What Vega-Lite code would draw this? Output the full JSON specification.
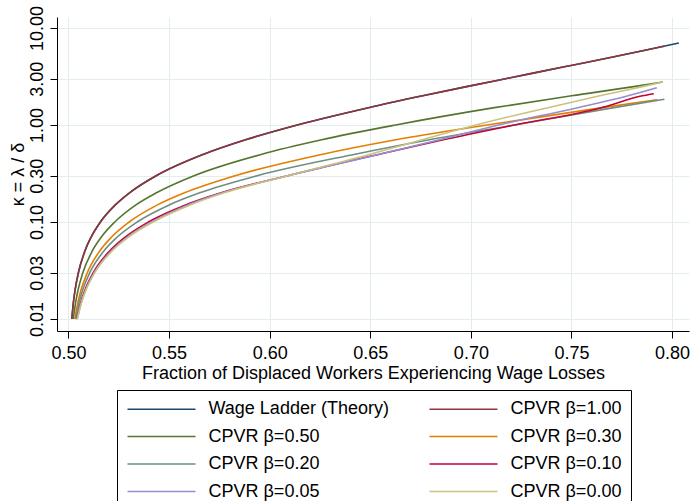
{
  "$schema": "https://vega.github.io/schema/vega-lite/v6.json",
  "width": 632,
  "height": 314,
  "autosize": {"type": "none"},
  "padding": {"left": 57, "top": 17, "right": 2, "bottom": 170},
  "background": "white",
  "config": {
    "view": {"stroke": null},
    "font": "Liberation Sans",
    "axis": {
      "domainColor": "black", "domainWidth": 1, "tickColor": "black", "tickWidth": 1, "tickSize": 7,
      "gridColor": "#e4edee", "gridWidth": 1, "labelFontSize": 18, "titleFontSize": 18,
      "labelColor": "black", "titleColor": "black", "titleFontWeight": "normal", "labelFont": "Liberation Sans", "titleFont": "Liberation Sans"
    },
    "legend": {"labelFont": "Liberation Sans"}
  },
  "data": {"values": [
    {"series": "Wage Ladder (Theory)", "kappa": 0.01, "frac": 0.50166},
    {"series": "Wage Ladder (Theory)", "kappa": 0.015, "frac": 0.50248},
    {"series": "Wage Ladder (Theory)", "kappa": 0.02, "frac": 0.50330},
    {"series": "Wage Ladder (Theory)", "kappa": 0.03, "frac": 0.50493},
    {"series": "Wage Ladder (Theory)", "kappa": 0.05, "frac": 0.50813},
    {"series": "Wage Ladder (Theory)", "kappa": 0.07, "frac": 0.51128},
    {"series": "Wage Ladder (Theory)", "kappa": 0.1, "frac": 0.51588},
    {"series": "Wage Ladder (Theory)", "kappa": 0.15, "frac": 0.52328},
    {"series": "Wage Ladder (Theory)", "kappa": 0.2, "frac": 0.53035},
    {"series": "Wage Ladder (Theory)", "kappa": 0.3, "frac": 0.54362},
    {"series": "Wage Ladder (Theory)", "kappa": 0.5, "frac": 0.56721},
    {"series": "Wage Ladder (Theory)", "kappa": 0.7, "frac": 0.58762},
    {"series": "Wage Ladder (Theory)", "kappa": 1.0, "frac": 0.61371},
    {"series": "Wage Ladder (Theory)", "kappa": 1.5, "frac": 0.64857},
    {"series": "Wage Ladder (Theory)", "kappa": 2.0, "frac": 0.67604},
    {"series": "Wage Ladder (Theory)", "kappa": 2.5, "frac": 0.69845},
    {"series": "Wage Ladder (Theory)", "kappa": 3.0, "frac": 0.71720},
    {"series": "Wage Ladder (Theory)", "kappa": 4.0, "frac": 0.74705},
    {"series": "Wage Ladder (Theory)", "kappa": 5.0, "frac": 0.76998},
    {"series": "Wage Ladder (Theory)", "kappa": 6.0, "frac": 0.78830},
    {"series": "Wage Ladder (Theory)", "kappa": 7.0, "frac": 0.80336},

    {"series": "CPVR β=1.00", "kappa": 0.01, "frac": 0.50166},
    {"series": "CPVR β=1.00", "kappa": 0.015, "frac": 0.50248},
    {"series": "CPVR β=1.00", "kappa": 0.02, "frac": 0.50330},
    {"series": "CPVR β=1.00", "kappa": 0.03, "frac": 0.50493},
    {"series": "CPVR β=1.00", "kappa": 0.05, "frac": 0.50813},
    {"series": "CPVR β=1.00", "kappa": 0.07, "frac": 0.51128},
    {"series": "CPVR β=1.00", "kappa": 0.1, "frac": 0.51588},
    {"series": "CPVR β=1.00", "kappa": 0.15, "frac": 0.52328},
    {"series": "CPVR β=1.00", "kappa": 0.2, "frac": 0.53035},
    {"series": "CPVR β=1.00", "kappa": 0.3, "frac": 0.54362},
    {"series": "CPVR β=1.00", "kappa": 0.5, "frac": 0.56721},
    {"series": "CPVR β=1.00", "kappa": 0.7, "frac": 0.58762},
    {"series": "CPVR β=1.00", "kappa": 1.0, "frac": 0.61371},
    {"series": "CPVR β=1.00", "kappa": 1.5, "frac": 0.64857},
    {"series": "CPVR β=1.00", "kappa": 2.0, "frac": 0.67604},
    {"series": "CPVR β=1.00", "kappa": 2.5, "frac": 0.69845},
    {"series": "CPVR β=1.00", "kappa": 3.0, "frac": 0.71720},
    {"series": "CPVR β=1.00", "kappa": 4.0, "frac": 0.74705},
    {"series": "CPVR β=1.00", "kappa": 5.0, "frac": 0.76998},
    {"series": "CPVR β=1.00", "kappa": 6.0, "frac": 0.78830},
    {"series": "CPVR β=1.00", "kappa": 6.5, "frac": 0.79617},

    {"series": "CPVR β=0.50", "kappa": 0.01, "frac": 0.50240},
    {"series": "CPVR β=0.50", "kappa": 0.015, "frac": 0.50360},
    {"series": "CPVR β=0.50", "kappa": 0.02, "frac": 0.50479},
    {"series": "CPVR β=0.50", "kappa": 0.03, "frac": 0.50714},
    {"series": "CPVR β=0.50", "kappa": 0.05, "frac": 0.51179},
    {"series": "CPVR β=0.50", "kappa": 0.07, "frac": 0.51635},
    {"series": "CPVR β=0.50", "kappa": 0.1, "frac": 0.52303},
    {"series": "CPVR β=0.50", "kappa": 0.15, "frac": 0.53352},
    {"series": "CPVR β=0.50", "kappa": 0.2, "frac": 0.54371},
    {"series": "CPVR β=0.50", "kappa": 0.3, "frac": 0.56238},
    {"series": "CPVR β=0.50", "kappa": 0.5, "frac": 0.59611},
    {"series": "CPVR β=0.50", "kappa": 0.7, "frac": 0.62529},
    {"series": "CPVR β=0.50", "kappa": 1.0, "frac": 0.66260},
    {"series": "CPVR β=0.50", "kappa": 1.5, "frac": 0.71096},
    {"series": "CPVR β=0.50", "kappa": 2.0, "frac": 0.74998},
    {"series": "CPVR β=0.50", "kappa": 2.5, "frac": 0.78180},
    {"series": "CPVR β=0.50", "kappa": 2.775, "frac": 0.79540},

    {"series": "CPVR β=0.30", "kappa": 0.01, "frac": 0.50315},
    {"series": "CPVR β=0.30", "kappa": 0.015, "frac": 0.50471},
    {"series": "CPVR β=0.30", "kappa": 0.02, "frac": 0.50627},
    {"series": "CPVR β=0.30", "kappa": 0.03, "frac": 0.50936},
    {"series": "CPVR β=0.30", "kappa": 0.05, "frac": 0.51545},
    {"series": "CPVR β=0.30", "kappa": 0.07, "frac": 0.52142},
    {"series": "CPVR β=0.30", "kappa": 0.1, "frac": 0.53017},
    {"series": "CPVR β=0.30", "kappa": 0.15, "frac": 0.54423},
    {"series": "CPVR β=0.30", "kappa": 0.2, "frac": 0.55767},
    {"series": "CPVR β=0.30", "kappa": 0.3, "frac": 0.58288},
    {"series": "CPVR β=0.30", "kappa": 0.5, "frac": 0.62635},
    {"series": "CPVR β=0.30", "kappa": 0.7, "frac": 0.66209},
    {"series": "CPVR β=0.30", "kappa": 1.0, "frac": 0.70808},
    {"series": "CPVR β=0.30", "kappa": 1.5, "frac": 0.76445},
    {"series": "CPVR β=0.30", "kappa": 1.82, "frac": 0.79270},

    {"series": "CPVR β=0.20", "kappa": 0.01, "frac": 0.50356},
    {"series": "CPVR β=0.20", "kappa": 0.015, "frac": 0.50534},
    {"series": "CPVR β=0.20", "kappa": 0.02, "frac": 0.50710},
    {"series": "CPVR β=0.20", "kappa": 0.03, "frac": 0.51059},
    {"series": "CPVR β=0.20", "kappa": 0.05, "frac": 0.51748},
    {"series": "CPVR β=0.20", "kappa": 0.07, "frac": 0.52424},
    {"series": "CPVR β=0.20", "kappa": 0.1, "frac": 0.53414},
    {"series": "CPVR β=0.20", "kappa": 0.15, "frac": 0.55005},
    {"series": "CPVR β=0.20", "kappa": 0.2, "frac": 0.56526},
    {"series": "CPVR β=0.20", "kappa": 0.3, "frac": 0.59378},
    {"series": "CPVR β=0.20", "kappa": 0.5, "frac": 0.64248},
    {"series": "CPVR β=0.20", "kappa": 0.7, "frac": 0.67874},
    {"series": "CPVR β=0.20", "kappa": 1.0, "frac": 0.72173},
    {"series": "CPVR β=0.20", "kappa": 1.5, "frac": 0.77039},
    {"series": "CPVR β=0.20", "kappa": 1.84, "frac": 0.79620},

    {"series": "CPVR β=0.10", "kappa": 0.01, "frac": 0.50415},
    {"series": "CPVR β=0.10", "kappa": 0.015, "frac": 0.50620},
    {"series": "CPVR β=0.10", "kappa": 0.02, "frac": 0.50825},
    {"series": "CPVR β=0.10", "kappa": 0.03, "frac": 0.51232},
    {"series": "CPVR β=0.10", "kappa": 0.05, "frac": 0.52033},
    {"series": "CPVR β=0.10", "kappa": 0.07, "frac": 0.52819},
    {"series": "CPVR β=0.10", "kappa": 0.1, "frac": 0.53970},
    {"series": "CPVR β=0.10", "kappa": 0.15, "frac": 0.55820},
    {"series": "CPVR β=0.10", "kappa": 0.2, "frac": 0.57588},
    {"series": "CPVR β=0.10", "kappa": 0.3, "frac": 0.60905},
    {"series": "CPVR β=0.10", "kappa": 0.5, "frac": 0.65458},
    {"series": "CPVR β=0.10", "kappa": 0.7, "frac": 0.68575},
    {"series": "CPVR β=0.10", "kappa": 1.0, "frac": 0.72173},
    {"series": "CPVR β=0.10", "kappa": 1.5, "frac": 0.76445},
    {"series": "CPVR β=0.10", "kappa": 2.0, "frac": 0.78519},
    {"series": "CPVR β=0.10", "kappa": 2.1, "frac": 0.79090},

    {"series": "CPVR β=0.05", "kappa": 0.01, "frac": 0.50431},
    {"series": "CPVR β=0.05", "kappa": 0.015, "frac": 0.50645},
    {"series": "CPVR β=0.05", "kappa": 0.02, "frac": 0.50858},
    {"series": "CPVR β=0.05", "kappa": 0.03, "frac": 0.51281},
    {"series": "CPVR β=0.05", "kappa": 0.05, "frac": 0.52114},
    {"series": "CPVR β=0.05", "kappa": 0.07, "frac": 0.52932},
    {"series": "CPVR β=0.05", "kappa": 0.1, "frac": 0.54129},
    {"series": "CPVR β=0.05", "kappa": 0.15, "frac": 0.55936},
    {"series": "CPVR β=0.05", "kappa": 0.2, "frac": 0.57649},
    {"series": "CPVR β=0.05", "kappa": 0.3, "frac": 0.60905},
    {"series": "CPVR β=0.05", "kappa": 0.5, "frac": 0.65458},
    {"series": "CPVR β=0.05", "kappa": 0.7, "frac": 0.68399},
    {"series": "CPVR β=0.05", "kappa": 1.0, "frac": 0.71377},
    {"series": "CPVR β=0.05", "kappa": 1.5, "frac": 0.75256},
    {"series": "CPVR β=0.05", "kappa": 2.0, "frac": 0.77814},
    {"series": "CPVR β=0.05", "kappa": 2.42, "frac": 0.79240},

    {"series": "CPVR β=0.00", "kappa": 0.01, "frac": 0.50439},
    {"series": "CPVR β=0.00", "kappa": 0.015, "frac": 0.50658},
    {"series": "CPVR β=0.00", "kappa": 0.02, "frac": 0.50875},
    {"series": "CPVR β=0.00", "kappa": 0.03, "frac": 0.51305},
    {"series": "CPVR β=0.00", "kappa": 0.05, "frac": 0.52155},
    {"series": "CPVR β=0.00", "kappa": 0.07, "frac": 0.52988},
    {"series": "CPVR β=0.00", "kappa": 0.1, "frac": 0.54208},
    {"series": "CPVR β=0.00", "kappa": 0.15, "frac": 0.56053},
    {"series": "CPVR β=0.00", "kappa": 0.2, "frac": 0.57740},
    {"series": "CPVR β=0.00", "kappa": 0.3, "frac": 0.60905},
    {"series": "CPVR β=0.00", "kappa": 0.5, "frac": 0.64988},
    {"series": "CPVR β=0.00", "kappa": 0.7, "frac": 0.67523},
    {"series": "CPVR β=0.00", "kappa": 1.0, "frac": 0.70240},
    {"series": "CPVR β=0.00", "kappa": 1.5, "frac": 0.73771},
    {"series": "CPVR β=0.00", "kappa": 2.0, "frac": 0.76406},
    {"series": "CPVR β=0.00", "kappa": 2.5, "frac": 0.78577},
    {"series": "CPVR β=0.00", "kappa": 2.78, "frac": 0.79550}
  ]},
  "mark": {"type": "line", "strokeWidth": 1.6, "interpolate": "monotone", "clip": true},
  "encoding": {
    "x": {
      "field": "frac", "type": "quantitative",
      "scale": {"domain": [0.4943, 0.8084], "nice": false, "zero": false},
      "axis": {
        "values": [0.5, 0.55, 0.6, 0.65, 0.7, 0.75, 0.8], "format": ".2f",
        "title": "Fraction of Displaced Workers Experiencing Wage Losses",
        "labelPadding": 6, "titlePadding": 2, "labelFlush": false
      }
    },
    "y": {
      "field": "kappa", "type": "quantitative",
      "scale": {"type": "log", "domain": [0.00752, 12.98], "nice": false},
      "axis": {
        "values": [0.01, 0.03, 0.1, 0.3, 1, 3, 10], "format": ".2f",
        "title": "κ = λ / δ",
        "labelAngle": -90, "labelAlign": "center", "labelBaseline": "bottom",
        "labelPadding": 4, "titlePadding": 1, "labelFlush": false
      }
    },
    "color": {
      "field": "series", "type": "nominal",
      "scale": {
        "domain": ["Wage Ladder (Theory)", "CPVR β=1.00", "CPVR β=0.50", "CPVR β=0.30", "CPVR β=0.20", "CPVR β=0.10", "CPVR β=0.05", "CPVR β=0.00"],
        "range": ["#1a476f", "#90353b", "#55752f", "#e37e00", "#6e8e84", "#c10534", "#938dd2", "#cac27e"]
      },
      "legend": {
        "title": null, "orient": "none", "legendX": 60, "legendY": 373, "direction": "horizontal",
        "columns": 2, "columnPadding": 36, "rowPadding": 8.5,
        "symbolType": "M-1,0H7", "symbolSize": 289, "symbolStrokeWidth": 1.6,
        "labelFontSize": 18, "labelColor": "black", "labelOffset": 63, "labelLimit": 400,
        "padding": 9.5, "strokeColor": "black", "fillColor": "white"
      }
    }
  }
}
